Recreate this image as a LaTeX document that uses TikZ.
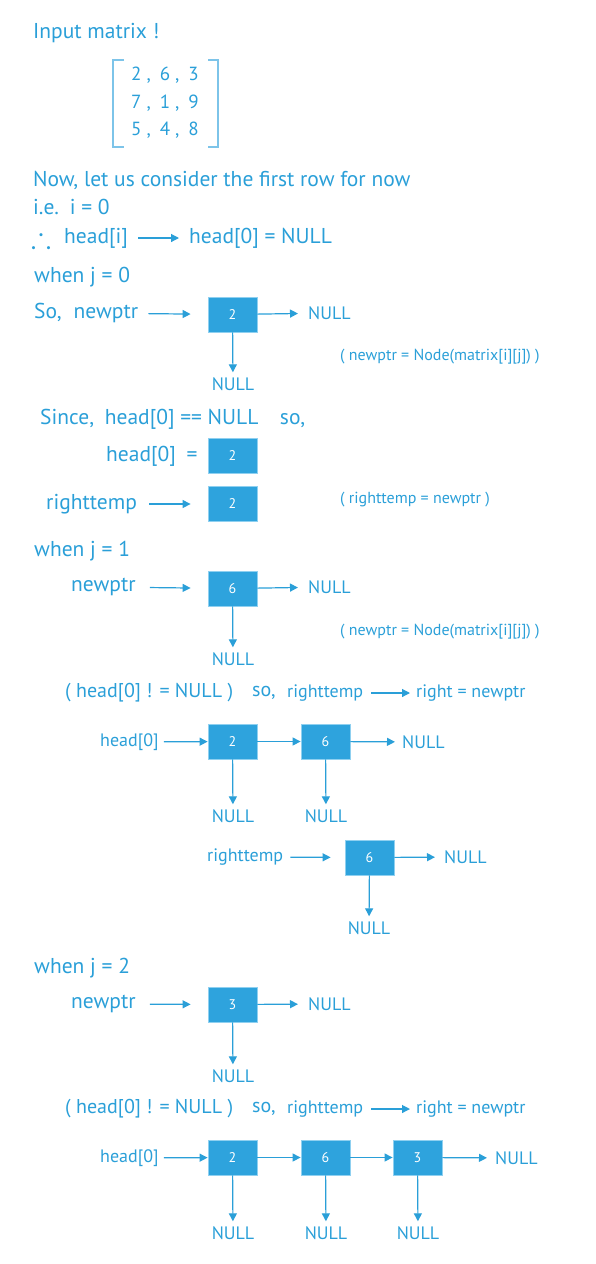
\documentclass[tikz,border=0pt]{standalone}
\usepackage{fontspec}
\setmainfont{PT Sans}
\usepackage{amssymb}
\usetikzlibrary{arrows.meta, positioning}
\definecolor{dsblue}{HTML}{2A9FD8}
\definecolor{cellblue}{HTML}{2EA3DD}
\definecolor{cellrim}{HTML}{8FD0F0}
\definecolor{brkblue}{HTML}{7DC4E9}
\newcommand{\mrow}[3]{#1\hspace{5pt},\hspace{9pt}#2\hspace{5pt},\hspace{9pt}#3}

\begin{document}
\begin{tikzpicture}[x=1pt, y=-1pt,
  big/.style={text=dsblue, font=\fontsize{21.5}{25}\selectfont, inner sep=0pt, anchor=west},
  cond/.style={big, font=\fontsize{20}{24}\selectfont},
  mid/.style={text=dsblue, font=\fontsize{18}{22}\selectfont, inner sep=0pt, anchor=west},
  sml/.style={text=dsblue, font=\fontsize{16}{19}\selectfont, inner sep=0pt, anchor=west},
  nul/.style={text=dsblue, font=\fontsize{18}{22}\selectfont, inner sep=0pt},
  cell/.style={fill=cellblue, draw=cellrim, line width=0.8pt, minimum width=49pt,
    minimum height=35pt, inner sep=0pt, text=white, font=\fontsize{14}{16}\selectfont},
  ptr/.style={draw=dsblue, line width=1.2pt, -{Triangle[length=8pt,width=8pt]}}]
  \useasboundingbox (0,0) rectangle (595,1264);

  % the input matrix
  \node[big] (title) at (33,33) {Input matrix !};
  \node[text=dsblue, font=\fontsize{19}{27.5}\selectfont, align=center, inner sep=0pt]
    (mat) at (165,103) {\mrow{2}{6}{3}\\ \mrow{7}{1}{9}\\ \mrow{5}{4}{8}};
  \draw[brkblue, line width=1.2pt] (124,60) -- (113,60) -- (113,147) -- (124,147);
  \draw[brkblue, line width=1.2pt] (208,60) -- (218,60) -- (218,147) -- (208,147);

  % first row
  \node[big] (now) at (33,180) {Now, let us consider the first row for now};
  \node[big] (ie) at (33,207) {i.e.\enspace i = 0};
  \node[text=dsblue, font=\fontsize{30}{30}\selectfont, inner sep=0pt, anchor=west]
    (thr) at (31,237) {$\therefore$};
  \node[big] (hi) at (64,238) {head[i]};
  \node[big] (hz) at (189,238) {head[0] = NULL};
  \draw[ptr, shorten <=10pt, shorten >=10pt] (hi) -- (hz);

  % j = 0
  \node[big] (wa) at (34,277) {when j = 0};
  \node[big] (npa) at (34,313) {So,\hspace{12pt}newptr};
  \node[cell] (ba) at (232.5,314.5) {2};
  \node[nul, anchor=west] (nra) at (308,313) {NULL};
  \node[nul] (nda) at (233,384) {NULL};
  \node[sml] (nta) at (340,357) {( newptr = Node(matrix[i][j]) )};
  \draw[ptr, shorten <=10pt, shorten >=17pt] (npa) -- (ba);
  \draw[ptr, shorten >=10pt] (ba) -- (nra);
  \draw[ptr, shorten >=5pt] (ba) -- (nda);

  % head is empty
  \node[big] (since) at (40,419) {Since,\enspace head[0] == NULL\quad so,};
  \node[big] (heq) at (106,456) {head[0]\enspace =};
  \node[cell] (bh) at (232.5,456) {2};
  \node[big] (rta) at (46,504) {righttemp};
  \node[cell] (br) at (232.5,504) {2};
  \node[sml] (ntb) at (340,500) {( righttemp = newptr )};
  \draw[ptr, shorten <=12pt, shorten >=17pt] (rta) -- (br);

  % j = 1
  \node[big] (wb) at (34,551) {when j = 1};
  \node[big] (npb) at (71,587) {newptr};
  \node[cell] (bb) at (232.5,588.5) {6};
  \node[nul, anchor=west] (nrb) at (308,587) {NULL};
  \node[nul] (ndb) at (233,659) {NULL};
  \node[sml] (ntc) at (340,632) {( newptr = Node(matrix[i][j]) )};
  \draw[ptr, shorten <=14pt, shorten >=17pt] (npb) -- (bb);
  \draw[ptr, shorten >=10pt] (bb) -- (nrb);
  \draw[ptr, shorten >=5pt] (bb) -- (ndb);

  \node[cond] (cda) at (65,693) {( head[0] ! = NULL )};
  \node[cond] (soa) at (252,693) {so,};
  \node[mid] (rtb) at (287,693) {righttemp};
  \node[mid] (rna) at (416,693) {right = newptr};
  \draw[ptr, shorten <=8pt, shorten >=6pt] (rtb) -- (rna);

  \node[mid] (hda) at (100,742) {head[0]};
  \node[cell] (ca) at (232.5,741.5) {2};
  \node[cell] (cb) at (325.5,741.5) {6};
  \node[nul, anchor=west] (nrc) at (402,742) {NULL};
  \draw[ptr, shorten <=5pt] (hda) -- (ca);
  \draw[ptr] (ca) -- (cb);
  \draw[ptr, shorten >=7pt] (cb) -- (nrc);
  \foreach \c/\x in {ca/233, cb/326} {
    \node[nul] (n\c) at (\x,816) {NULL};
    \draw[ptr, shorten >=5pt] (\c) -- (n\c);
  }

  \node[mid] (rtc) at (207,857) {righttemp};
  \node[cell] (cc) at (369.5,857.5) {6};
  \node[nul, anchor=west] (nrd) at (444,857) {NULL};
  \node[nul] (ndc) at (369,928) {NULL};
  \draw[ptr, shorten <=7pt, shorten >=14pt] (rtc) -- (cc);
  \draw[ptr, shorten >=9pt] (cc) -- (nrd);
  \draw[ptr, shorten >=5pt] (cc) -- (ndc);

  % j = 2
  \node[big] (wc) at (34,968) {when j = 2};
  \node[big] (npc) at (71,1004) {newptr};
  \node[cell] (bc) at (232.5,1004.5) {3};
  \node[nul, anchor=west] (nre) at (308,1004) {NULL};
  \node[nul] (ndd) at (233,1076) {NULL};
  \draw[ptr, shorten <=14pt, shorten >=17pt] (npc) -- (bc);
  \draw[ptr, shorten >=10pt] (bc) -- (nre);
  \draw[ptr, shorten >=5pt] (bc) -- (ndd);

  \node[cond] (cdb) at (65,1109) {( head[0] ! = NULL )};
  \node[cond] (sob) at (252,1109) {so,};
  \node[mid] (rtd) at (287,1109) {righttemp};
  \node[mid] (rnb) at (416,1109) {right = newptr};
  \draw[ptr, shorten <=8pt, shorten >=6pt] (rtd) -- (rnb);

  % final list of the first row
  \node[mid] (hdb) at (100,1158) {head[0]};
  \foreach \c/\v/\x in {p/2/232.5, q/6/325.5, r/3/417.5}
    \node[cell] (\c) at (\x,1157.5) {\v};
  \node[nul, anchor=west] (nrf) at (495,1158) {NULL};
  \draw[ptr, shorten <=5pt] (hdb) -- (p);
  \draw[ptr] (p) -- (q);
  \draw[ptr] (q) -- (r);
  \draw[ptr, shorten >=8pt] (r) -- (nrf);
  \foreach \c/\x in {p/233, q/326, r/418} {
    \node[nul] (n\c) at (\x,1233) {NULL};
    \draw[ptr, shorten >=5pt] (\c) -- (n\c);
  }
\end{tikzpicture}
\end{document}
